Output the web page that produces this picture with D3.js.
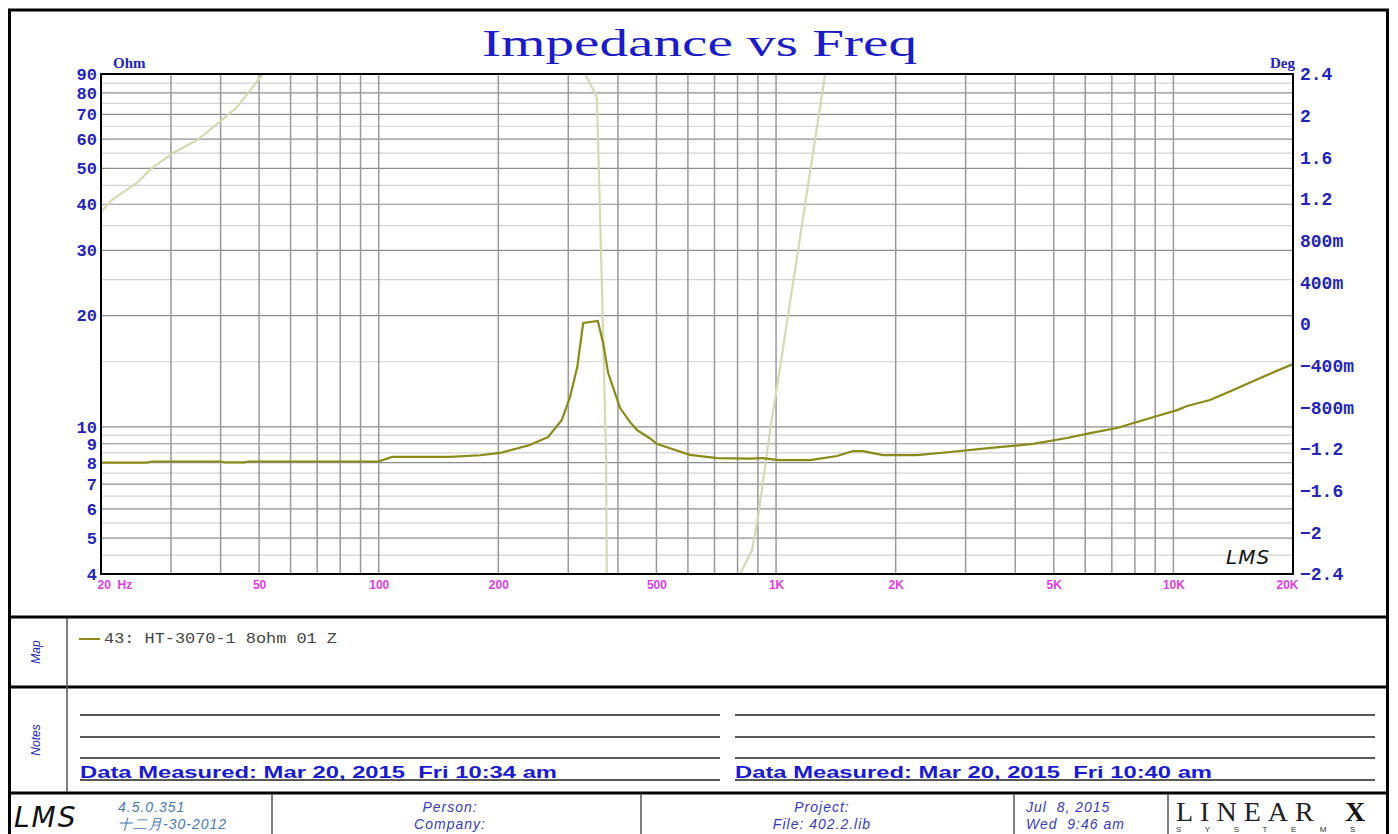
<!DOCTYPE html>
<html lang="en">
<head>
<meta charset="UTF-8">
<title>Impedance vs Freq</title>
<script src="https://d3js.org/d3.v7.min.js"></script>
<style>
  body { margin: 0; background: #fff; }
  svg { display: block; }
</style>
</head>
<body>
<svg width="1398" height="834"></svg>
<script>
// impedance magnitude (Ohm)
const impFreq = [20, 26, 27, 40, 41, 46, 47, 100, 108, 151, 180, 202, 240, 267, 289, 303, 316, 327, 356, 367, 378, 405, 429, 447, 482, 501, 550, 607, 710, 860, 928, 1012, 1218, 1424, 1563, 1655, 1859, 2264, 2742, 3477, 4434, 5400, 6171, 7215, 8101, 9099, 10217, 10830, 12370, 14140, 17220, 20000];
const impOhm  = [8.0, 8.0, 8.06, 8.06, 8.02, 8.02, 8.06, 8.06, 8.29, 8.29, 8.38, 8.5, 8.93, 9.39, 10.44, 12.04, 14.52, 19.09, 19.33, 16.86, 13.98, 11.24, 10.3, 9.8, 9.3, 9.0, 8.7, 8.4, 8.23, 8.2, 8.23, 8.13, 8.13, 8.34, 8.6, 8.6, 8.39, 8.39, 8.55, 8.77, 8.99, 9.33, 9.62, 9.93, 10.31, 10.7, 11.1, 11.39, 11.82, 12.58, 13.81, 14.79];

// phase (right axis); null = trace leaves the plot
const phaseFreq = [20, 21.3, 24.6, 26.9, 30.4, 34.9, 40.3, 44, 50.9, 100, 330.6, 354, 364.8, 373.4, 375, 600, 812, 870, 901, 966, 1012, 1329];
const phaseDeg  = [1.075, 1.19, 1.354, 1.498, 1.642, 1.766, 1.958, 2.083, 2.39, null, 2.4, 2.179, 0.326, -1.277, -2.4, null, -2.4, -2.17, -1.853, -1.018, -0.538, 2.4];

const freqTicks = [20, 50, 100, 200, 500, 1000, 2000, 5000, 10000, 20000];
const ohmTicks  = [4, 5, 6, 7, 8, 9, 10, 20, 30, 40, 50, 60, 70, 80, 90];
const ohmMinor  = [4.5, 5.5, 6.5, 7.5, 8.5, 9.5, 15, 25, 35, 45, 55, 65, 75, 85];
const degTicks  = [-2.4, -2, -1.6, -1.2, -0.8, -0.4, 0, 0.4, 0.8, 1.2, 1.6, 2, 2.4];

const legendText = "43: HT-3070-1 8ohm 01 Z";
const measuredLeft = "Data Measured: Mar 20, 2015  Fri 10:34 am";
const measuredRight = "Data Measured: Mar 20, 2015  Fri 10:40 am";

const svg = d3.select("svg");
const blue = "#2424b8";
const olive = "#8a8a18";

const x = d3.scaleLog().domain([20, 20000]).range([101, 1293]);
const y = d3.scaleLog().domain([4, 90]).range([574, 74]);
const yDeg = d3.scaleLinear().domain([-2.4, 2.4]).range([574, 74]);

// outer frame
svg.append("rect").attr("x", 9.5).attr("y", 10).attr("width", 1378).attr("height", 840)
  .attr("fill", "none").attr("stroke", "#000").attr("stroke-width", 3);

// title
svg.append("text").attr("x", 482).attr("y", 56)
  .attr("font-family", "Liberation Serif").attr("font-size", 38)
  .attr("fill", "#1c1cc4").attr("textLength", 435).attr("lengthAdjust", "spacingAndGlyphs")
  .text("Impedance vs Freq");

// grid
const grid = svg.append("g");
grid.selectAll(".minor").data(ohmMinor).join("line")
  .attr("x1", 101).attr("x2", 1293).attr("y1", d => y(d)).attr("y2", d => y(d))
  .attr("stroke", "#d2d2d2").attr("stroke-width", 1.2);
grid.selectAll(".major").data(ohmTicks).join("line")
  .attr("x1", 101).attr("x2", 1293).attr("y1", d => y(d)).attr("y2", d => y(d))
  .attr("stroke", "#8e8e8e").attr("stroke-width", 1.2);
grid.selectAll(".vert").data(x.ticks()).join("line")
  .attr("x1", d => x(d)).attr("x2", d => x(d)).attr("y1", 74).attr("y2", 574)
  .attr("stroke", "#999").attr("stroke-width", 1.5);

// clip for traces
svg.append("clipPath").attr("id", "plotClip")
  .append("rect").attr("x", 101).attr("y", 74).attr("width", 1192).attr("height", 500);

const phaseData = phaseFreq.map((f, i) => ({ f, v: phaseDeg[i] }));
const impData = impFreq.map((f, i) => ({ f, v: impOhm[i] }));

svg.append("path").datum(phaseData)
  .attr("clip-path", "url(#plotClip)")
  .attr("fill", "none").attr("stroke", "#d6d9b4").attr("stroke-width", 2.2)
  .attr("d", d3.line().defined(d => d.v !== null).x(d => x(d.f)).y(d => yDeg(d.v)));

svg.append("path").datum(impData)
  .attr("clip-path", "url(#plotClip)")
  .attr("fill", "none").attr("stroke", olive).attr("stroke-width", 2.2)
  .attr("d", d3.line().x(d => x(d.f)).y(d => y(d.v)));

// plot border
svg.append("rect").attr("x", 101).attr("y", 74).attr("width", 1192).attr("height", 500)
  .attr("fill", "none").attr("stroke", "#000").attr("stroke-width", 2);

// left axis
const leftAxis = svg.append("g").attr("transform", "translate(97,0)")
  .call(d3.axisLeft(y).tickValues(ohmTicks).tickSize(0).tickPadding(0).tickFormat(d3.format("d")));
leftAxis.select(".domain").remove();
leftAxis.selectAll("text").attr("font-family", "Liberation Mono").attr("font-weight", "bold")
  .attr("font-size", 17).attr("fill", blue);

// right axis
const degFmt = v => {
  if (v === 0) return "0";
  const s = Math.abs(v) < 1 ? Math.round(Math.abs(v) * 1000) + "m" : String(+Math.abs(v).toFixed(1));
  return (v < 0 ? "\u2212" : "") + s;
};
const rightAxis = svg.append("g").attr("transform", "translate(1300,0)")
  .call(d3.axisRight(yDeg).tickValues(degTicks).tickSize(0).tickPadding(0).tickFormat(degFmt));
rightAxis.select(".domain").remove();
rightAxis.selectAll("text").attr("font-family", "Liberation Mono").attr("font-weight", "bold")
  .attr("font-size", 18).attr("fill", blue);

// bottom axis
const bottomAxis = svg.append("g").attr("transform", "translate(0,580)")
  .call(d3.axisBottom(x).tickValues(freqTicks).tickSize(0).tickPadding(0)
    .tickFormat(d => d === 20 ? "20  Hz" : d >= 1000 ? (d / 1000) + "K" : String(d)));
bottomAxis.select(".domain").remove();
bottomAxis.selectAll("text").attr("font-family", "Liberation Sans").attr("font-weight", "bold")
  .attr("font-size", 12).attr("fill", "#e03ce0").style("white-space", "pre").attr("xml:space", "preserve");
bottomAxis.selectAll(".tick").filter(d => d === 20).select("text")
  .attr("text-anchor", "start").attr("x", -4);
bottomAxis.selectAll(".tick").filter(d => d === 20000).select("text")
  .attr("text-anchor", "end").attr("x", 5);

// axis unit labels
svg.append("text").attr("x", 113).attr("y", 68).text("Ohm")
  .attr("font-family", "Liberation Serif").attr("font-weight", "bold").attr("font-size", 15).attr("fill", blue);
svg.append("text").attr("x", 1295).attr("y", 68).attr("text-anchor", "end").text("Deg")
  .attr("font-family", "Liberation Serif").attr("font-weight", "bold").attr("font-size", 15).attr("fill", blue);

// LMS mark inside plot
svg.append("text").attr("x", 1226).attr("y", 564).text("LMS")
  .attr("font-family", "DejaVu Sans").attr("font-style", "italic").attr("font-size", 20)
  .attr("letter-spacing", 1).attr("fill", "#111");

// panel dividers
[617, 687, 793].forEach(yy => {
  svg.append("line").attr("x1", 9).attr("x2", 1388).attr("y1", yy).attr("y2", yy)
    .attr("stroke", "#000").attr("stroke-width", 3);
});
svg.append("line").attr("x1", 67).attr("x2", 67).attr("y1", 618).attr("y2", 792)
  .attr("stroke", "#555").attr("stroke-width", 1.5);
[272, 641, 1014, 1168].forEach(xx => {
  svg.append("line").attr("x1", xx).attr("x2", xx).attr("y1", 794).attr("y2", 834)
    .attr("stroke", "#555").attr("stroke-width", 1.5);
});

// side labels
svg.append("text").attr("transform", "translate(40,652) rotate(-90)").attr("text-anchor", "middle")
  .attr("font-family", "Liberation Sans").attr("font-style", "italic").attr("font-size", 12)
  .attr("fill", blue).text("Map");
svg.append("text").attr("transform", "translate(40,740) rotate(-90)").attr("text-anchor", "middle")
  .attr("font-family", "Liberation Sans").attr("font-style", "italic").attr("font-size", 12)
  .attr("fill", blue).text("Notes");

// legend
svg.append("line").attr("x1", 79).attr("x2", 100).attr("y1", 639).attr("y2", 639)
  .attr("stroke", olive).attr("stroke-width", 2);
svg.append("text").attr("x", 104).attr("y", 643).text(legendText)
  .attr("font-family", "Liberation Mono").attr("font-size", 14).attr("fill", "#444")
  .attr("textLength", 233).attr("lengthAdjust", "spacingAndGlyphs").attr("xml:space", "preserve");

// notes lines
[[80, 720], [735, 1375]].forEach(([a, b]) => {
  [715, 737, 758, 780].forEach(yy => {
    svg.append("line").attr("x1", a).attr("x2", b).attr("y1", yy).attr("y2", yy)
      .attr("stroke", "#222").attr("stroke-width", 1.3);
  });
});
[[80, measuredLeft], [735, measuredRight]].forEach(([xx, t]) => {
  svg.append("text").attr("x", xx).attr("y", 778).text(t).attr("xml:space", "preserve")
    .attr("font-family", "Liberation Sans").attr("font-weight", "bold").attr("font-size", 17)
    .attr("fill", "#1a1ad0").attr("textLength", 477).attr("lengthAdjust", "spacingAndGlyphs");
});

// footer
svg.append("text").attr("x", 14).attr("y", 827).text("LMS")
  .attr("font-family", "DejaVu Sans").attr("font-style", "italic").attr("font-size", 28)
  .attr("letter-spacing", 2).attr("fill", "#111");
const footStyle = sel => sel.attr("font-family", "Liberation Sans").attr("font-style", "italic")
  .attr("font-size", 14).attr("letter-spacing", 1).attr("xml:space", "preserve");
footStyle(svg.append("text").attr("x", 118).attr("y", 812).attr("fill", "#4a78b0").text("4.5.0.351"));
footStyle(svg.append("text").attr("x", 118).attr("y", 829).attr("fill", "#4a78b0").text("十二月-30-2012"));
footStyle(svg.append("text").attr("x", 450).attr("y", 812).attr("text-anchor", "middle").attr("fill", "#3a3ab8").text("Person:"));
footStyle(svg.append("text").attr("x", 450).attr("y", 829).attr("text-anchor", "middle").attr("fill", "#3a3ab8").text("Company:"));
footStyle(svg.append("text").attr("x", 822).attr("y", 812).attr("text-anchor", "middle").attr("fill", "#3a3ab8").text("Project:"));
footStyle(svg.append("text").attr("x", 822).attr("y", 829).attr("text-anchor", "middle").attr("fill", "#3a3ab8").text("File: 402.2.lib"));
footStyle(svg.append("text").attr("x", 1026).attr("y", 812).attr("fill", "#3a3ab8").text("Jul  8, 2015"));
footStyle(svg.append("text").attr("x", 1026).attr("y", 829).attr("fill", "#3a3ab8").text("Wed  9:46 am"));

// LinearX logo
svg.append("text").attr("x", 1176).attr("y", 821).text("LINEAR")
  .attr("font-family", "Liberation Serif").attr("font-size", 28).attr("letter-spacing", 7).attr("fill", "#222");
svg.append("text").attr("x", 1345).attr("y", 821).text("X")
  .attr("font-family", "Liberation Serif").attr("font-weight", "bold").attr("font-size", 28).attr("fill", "#111");
svg.append("text").attr("x", 1176).attr("y", 832).text("SYSTEMS")
  .attr("font-family", "Liberation Sans").attr("font-size", 8).attr("letter-spacing", 23.5).attr("fill", "#333");
</script>
</body>
</html>
